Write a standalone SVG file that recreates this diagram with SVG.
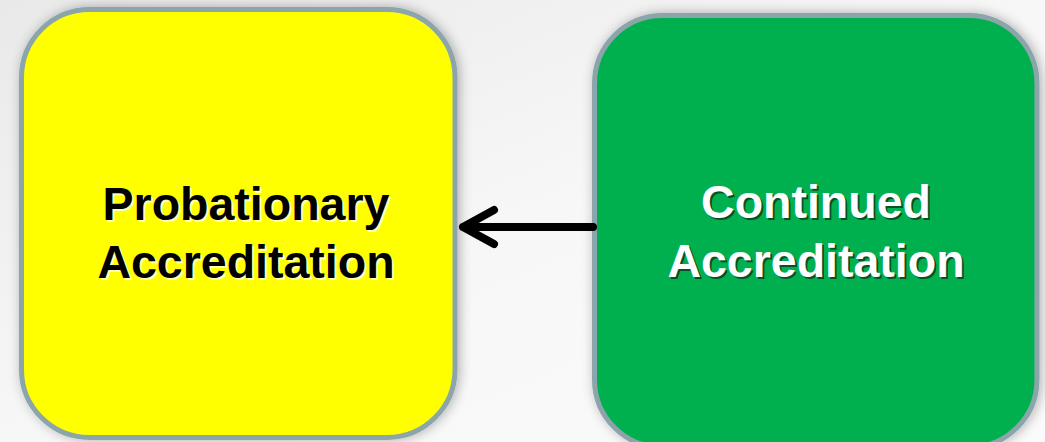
<svg xmlns="http://www.w3.org/2000/svg" width="1045" height="442" viewBox="0 0 1045 442">
<defs>
<linearGradient id="bg" x1="0" y1="0" x2="1" y2="1">
<stop offset="0" stop-color="#e9e9e9"/>
<stop offset="0.5" stop-color="#f7f7f7"/>
<stop offset="1" stop-color="#fbfbfb"/>
</linearGradient>
<filter id="sh" x="-10%" y="-10%" width="120%" height="120%">
<feDropShadow dx="2" dy="0" stdDeviation="6" flood-color="#000" flood-opacity="0.3"/>
</filter>
</defs>
<style>
.box{stroke:#8ba5aa;stroke-width:5;filter:url(#sh)}
.t{font-family:"Liberation Sans",Arial,sans-serif;font-weight:bold;font-size:46.5px;text-anchor:middle}
.conn{stroke:#000;stroke-width:8;fill:none;stroke-linecap:round;stroke-linejoin:round}
</style>
<rect width="1045" height="442" fill="url(#bg)"/>
<g id="probationary">
<rect class="box" x="21.5" y="9.5" width="433.5" height="428" rx="68" fill="#ffff00"/>
<text class="t" fill="#ffffc8" opacity="0.9" x="248" y="222">Probationary</text>
<text class="t" fill="#ffffc8" opacity="0.9" x="248" y="280">Accreditation</text>
<text class="t" fill="#000" x="246" y="220">Probationary</text>
<text class="t" fill="#000" x="246" y="278">Accreditation</text>
</g>
<g id="continued">
<rect class="box" x="594.5" y="15.5" width="442.5" height="432" rx="68" fill="#00b050"/>
<text class="t" fill="#0a3a1e" opacity="0.8" x="818" y="220">Continued</text>
<text class="t" fill="#0a3a1e" opacity="0.8" x="818" y="279">Accreditation</text>
<text class="t" fill="#fff" x="816" y="218">Continued</text>
<text class="t" fill="#fff" x="816" y="277">Accreditation</text>
</g>
<g id="connectors">
<path class="conn" d="M593 227 H463 M494 210 L463 227 L494 244"/>
</g>
</svg>
